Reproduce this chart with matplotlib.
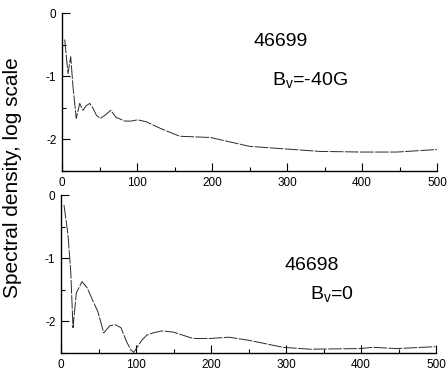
import matplotlib
matplotlib.use("Agg")
import matplotlib.pyplot as plt
from matplotlib.ticker import MultipleLocator

plt.rcParams['font.family'] = ['Liberation Sans', 'DejaVu Sans']
plt.rcParams['mathtext.default'] = 'regular'

# Shot 46699, Bv = -40G
x_top = [3.6, 8, 11.6, 14.7, 19, 23.6, 28, 32, 37, 41, 46, 51, 57, 65, 72, 83.6, 92,
         101, 112, 132, 157, 198, 250, 297, 344, 400, 447, 500]
y_top = [-0.42, -0.96, -0.69, -1.17, -1.67, -1.43, -1.54, -1.47, -1.43, -1.5, -1.62,
         -1.67, -1.62, -1.54, -1.65, -1.71, -1.71, -1.69, -1.72, -1.83, -1.95, -1.97,
         -2.11, -2.15, -2.19, -2.2, -2.2, -2.16]

# Shot 46698, Bv = 0
x_bot = [4, 9.3, 13, 16, 20.4, 28, 35, 42.7, 49, 57, 65, 71.6, 80, 87, 93, 97, 107,
         114, 123, 135, 150, 176, 199, 224, 251, 296, 332, 399, 416, 448, 499]
y_bot = [-0.16, -0.63, -1.21, -2.1, -1.55, -1.37, -1.47, -1.68, -1.84, -2.18, -2.07,
         -2.05, -2.1, -2.31, -2.45, -2.49, -2.31, -2.22, -2.18, -2.15, -2.17, -2.27,
         -2.27, -2.25, -2.3, -2.41, -2.44, -2.43, -2.41, -2.43, -2.4]

xticks = [0, 100, 200, 300, 400, 500]
yticks = [0, -1, -2]

fig = plt.figure(figsize=(4.47, 3.73), dpi=100)
ax1 = fig.add_axes([62/447, 1-171/373, 375/447, 158/373])
ax2 = fig.add_axes([61/447, 1-353/373, 375/447, 158/373])

line_kw = dict(color='#2a2a2a', lw=0.7, linestyle=(0, (14, 1.5)))
ax1.plot(x_top, y_top, **line_kw)
ax2.plot(x_bot, y_bot, **line_kw)

for ax in (ax1, ax2):
    ax.set_xlim(0, 500)
    ax.set_ylim(-2.5, 0)
    ax.set_xticks(xticks)
    ax.set_yticks(yticks)
    ax.set_xticklabels([str(t) for t in xticks])
    ax.set_yticklabels(['0', '-1', '-2'])
    ax.xaxis.set_minor_locator(MultipleLocator(50))
    ax.yaxis.set_minor_locator(MultipleLocator(0.5))
    for s in ('top', 'right'):
        ax.spines[s].set_visible(False)
    for s in ('left', 'bottom'):
        ax.spines[s].set_linewidth(1.0)
    ax.tick_params(which='major', direction='in', length=6, width=0.8,
                   labelsize=8.5, pad=4)
    ax.tick_params(which='minor', direction='in', length=3, width=0.8)
    ax.set_facecolor('none')

labels = [(281, 42, '46699'), (310, 80, 'B$_{v}$=-40G'),
          (312, 266, '46698'), (332, 294, 'B$_{v}$=0')]
for px, py, s in labels:
    fig.text(px/447, 1-py/373, s, fontsize=14, ha='center', va='center')

fig.text(13/447, 1-178/373, 'Spectral density, log scale', rotation=90,
         fontsize=15, ha='center', va='center')

fig.savefig('out.png', dpi=100)
